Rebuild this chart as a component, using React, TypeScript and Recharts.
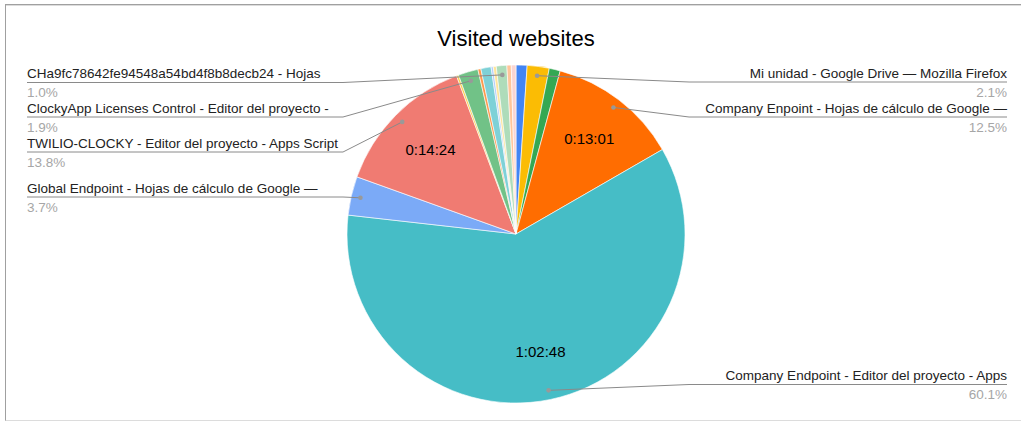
import React from "react";
import { PieChart, Pie, Cell } from "recharts";

// time spent per site, in seconds (clockwise from 12 o'clock)
const sites = [
  "Sitio 1",
  "Mi unidad - Google Drive — Mozilla Firefox",
  "Sitio 3",
  "Company Enpoint - Hojas de cálculo de Google —",
  "Company Endpoint - Editor del proyecto - Apps",
  "Global Endpoint - Hojas de cálculo de Google —",
  "TWILIO-CLOCKY - Editor del proyecto - Apps Script",
  "Sitio 8",
  "ClockyApp Licenses Control - Editor del proyecto -",
  "Sitio 10",
  "Sitio 11",
  "Sitio 12",
  "Sitio 13",
  "CHa9fc78642fe94548a54bd4f8b8decb24 - Hojas",
  "Sitio 15",
  "Sitio 16",
];
const seconds = [66, 132, 66, 781, 3768, 232, 864, 13, 119, 18, 61, 13, 18, 63, 26, 28];

const colors = [
  "#4285F4", "#FBBC04", "#34A853", "#FF6D01", "#46BDC6", "#7BAAF7", "#F07B72", "#FCD04F",
  "#71C287", "#FF994D", "#7ED1D7", "#B3CEFB", "#FDE49B", "#AEDCBA", "#FFC599", "#F9D5D2",
];

// which slices get an outside label, and where its underline sits
const leaders: Record<string, { side: "left" | "right"; lineY: number }> = {
  "CHa9fc78642fe94548a54bd4f8b8decb24 - Hojas": { side: "left", lineY: 82.5 },
  "ClockyApp Licenses Control - Editor del proyecto -": { side: "left", lineY: 117 },
  "TWILIO-CLOCKY - Editor del proyecto - Apps Script": { side: "left", lineY: 152 },
  "Global Endpoint - Hojas de cálculo de Google —": { side: "left", lineY: 197 },
  "Mi unidad - Google Drive — Mozilla Firefox": { side: "right", lineY: 82 },
  "Company Enpoint - Hojas de cálculo de Google —": { side: "right", lineY: 117 },
  "Company Endpoint - Editor del proyecto - Apps": { side: "right", lineY: 384.5 },
};

const data = sites.map((name, i) => ({ name, value: seconds[i] }));

const FONT = "'Liberation Sans', Arial, sans-serif";
const RAD = Math.PI / 180;

const hms = (s: number) => {
  const h = Math.floor(s / 3600);
  const m = Math.floor((s % 3600) / 60);
  const sec = s % 60;
  return `${h}:${String(m).padStart(2, "0")}:${String(sec).padStart(2, "0")}`;
};

const renderLabel = (props: any) => {
  const { cx, cy, midAngle, outerRadius, percent, name, value } = props;
  const at = (r: number) => ({
    x: cx + r * Math.cos(-midAngle * RAD),
    y: cy + r * Math.sin(-midAngle * RAD),
  });
  const inner = at(outerRadius * 0.71);
  const dot = at(outerRadius * 0.945);
  const lay = leaders[name];
  return (
    <g>
      {percent > 0.1 && (
        <text
          x={inner.x}
          y={inner.y}
          textAnchor="middle"
          dominantBaseline="central"
          fontFamily={FONT}
          fontSize={15}
          fill="#000"
        >
          {hms(value)}
        </text>
      )}
      {lay && (
        <g>
          <polyline
            points={
              lay.side === "left"
                ? `27,${lay.lineY} 343,${lay.lineY} ${dot.x},${dot.y}`
                : `1007,${lay.lineY} 689,${lay.lineY} ${dot.x},${dot.y}`
            }
            fill="none"
            stroke="#8a8a8a"
            strokeWidth={1}
          />
          <circle cx={dot.x} cy={dot.y} r={2.3} fill="#999" />
          <text
            x={lay.side === "left" ? 27 : 1007}
            y={lay.lineY - 4.5}
            textAnchor={lay.side === "left" ? "start" : "end"}
            fontFamily={FONT}
            fontSize={13.5}
            fill="#222"
          >
            {name}
          </text>
          <text
            x={lay.side === "left" ? 27 : 1007}
            y={lay.lineY + 14.5}
            textAnchor={lay.side === "left" ? "start" : "end"}
            fontFamily={FONT}
            fontSize={13.5}
            fill="#a6a6a6"
          >
            {(percent * 100).toFixed(1)}%
          </text>
        </g>
      )}
    </g>
  );
};

export default function App() {
  return (
    <div style={{ position: "absolute", left: 0, top: 0, width: 1021, height: 422, overflow: "hidden", background: "#fff" }}>
      <div
        style={{
          position: "absolute",
          left: 5,
          top: 4,
          width: 1030,
          height: 415,
          borderTop: "1px solid #a0a0a0",
          borderLeft: "1px solid #a0a0a0",
          borderBottom: "1px solid #dcdcdc",
          boxShadow: "inset 0 1px 0 #dcdcdc",
        }}
      />
      <div
        style={{
          position: "absolute",
          left: 0,
          width: 1032,
          top: 28,
          textAlign: "center",
          fontFamily: FONT,
          fontSize: 22,
          lineHeight: "22px",
          color: "#000",
        }}
      >
        Visited websites
      </div>
      <div style={{ position: "absolute", left: 0, top: 0 }}>
        <PieChart width={1021} height={422} margin={{ top: 0, right: 0, bottom: 0, left: 0 }}>
          <Pie
            data={data}
            dataKey="value"
            nameKey="name"
            cx={516}
            cy={234}
            outerRadius={169}
            startAngle={90}
            endAngle={-270}
            stroke="#ffffff"
            strokeWidth={0.6}
            label={renderLabel}
            labelLine={false}
            isAnimationActive={false}
          >
            {data.map((d, i) => (
              <Cell key={d.name} fill={colors[i]} />
            ))}
          </Pie>
        </PieChart>
      </div>
    </div>
  );
}
